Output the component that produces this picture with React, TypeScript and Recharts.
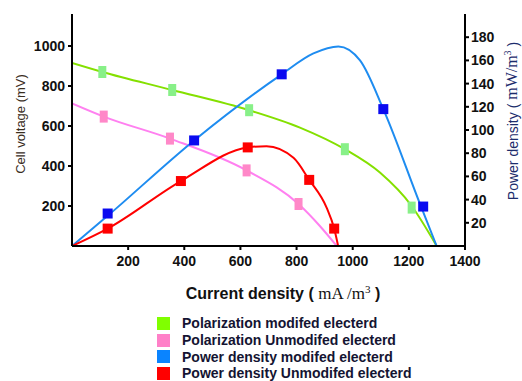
import { ComposedChart, Line, Scatter, XAxis, YAxis } from "recharts";

// axis ticks
const currentTicks = [200, 400, 600, 800, 1000, 1200, 1400];
const voltageTicks = [200, 400, 600, 800, 1000];
const powerTicks = [20, 40, 60, 80, 100, 120, 140, 160, 180];

// polarization, modified electrode (current density mA/m3 -> cell voltage mV)
const polModCurve = [
  { x: 0, y: 915 },
  { x: 108, y: 870 },
  { x: 357, y: 780 },
  { x: 631, y: 679 },
  { x: 812, y: 592 },
  { x: 972, y: 484 },
  { x: 1097, y: 367 },
  { x: 1210, y: 200 },
  { x: 1299, y: 0 },
];
const polModPoints = [
  { x: 108, y: 870 },
  { x: 357, y: 780 },
  { x: 631, y: 679 },
  { x: 972, y: 484 },
  { x: 1210, y: 192 },
];

// polarization, unmodified electrode
const polUnmodCurve = [
  { x: 0, y: 713 },
  { x: 113, y: 647 },
  { x: 349, y: 537 },
  { x: 622, y: 378 },
  { x: 807, y: 210 },
  { x: 883, y: 100 },
  { x: 943, y: 0 },
];
const polUnmodPoints = [
  { x: 113, y: 647 },
  { x: 349, y: 537 },
  { x: 622, y: 378 },
  { x: 807, y: 210 },
];

// power density, modified electrode (mW/m3)
const powModCurve = [
  { x: 0, y: 0 },
  { x: 127, y: 26 },
  { x: 435, y: 91 },
  { x: 747, y: 148 },
  { x: 860, y: 166 },
  { x: 949, y: 172 },
  { x: 1026, y: 160 },
  { x: 1109, y: 118 },
  { x: 1240, y: 36 },
  { x: 1299, y: 0 },
];
const powModPoints = [
  { x: 127, y: 28 },
  { x: 435, y: 91 },
  { x: 747, y: 148 },
  { x: 1109, y: 118 },
  { x: 1251, y: 34 },
];

// power density, unmodified electrode
const powUnmodCurve = [
  { x: 0, y: 0 },
  { x: 127, y: 15 },
  { x: 388, y: 56 },
  { x: 626, y: 85 },
  { x: 693, y: 86 },
  { x: 789, y: 76 },
  { x: 845, y: 57 },
  { x: 907, y: 33 },
  { x: 934, y: 15 },
  { x: 948, y: 0 },
];
const powUnmodPoints = [
  { x: 127, y: 15 },
  { x: 388, y: 56 },
  { x: 626, y: 85 },
  { x: 845, y: 57 },
  { x: 934, y: 15 },
];

const legendItems = [
  { label: "Polarization modifed electerd", color: "#80ff00" },
  { label: "Polarization Unmodifed electerd", color: "#ff80c8" },
  { label: "Power density modifed electerd", color: "#0a84ff" },
  { label: "Power density Unmodifed electerd", color: "#ff0000" },
];

const sans = "'Liberation Sans', Arial, sans-serif";
const serif = "'Liberation Serif', 'Times New Roman', serif";
const tickStyle = { fill: "#111", fontSize: 14, fontWeight: "bold", fontFamily: sans };
const axisStroke = { stroke: "#000", strokeWidth: 2 };

const rectMarker = (w: number, h: number, fill: string) => (props: any) =>
  <rect x={props.cx - w / 2} y={props.cy - h / 2} width={w} height={h} fill={fill} />;

export default function App() {
  return (
    <div style={{ position: "absolute", left: 0, top: 0, width: 522, height: 381, background: "#fff" }}>
      <ComposedChart width={522} height={300} margin={{ top: 14, right: 12, bottom: 24, left: 12 }}>
        <XAxis
          dataKey="x"
          type="number"
          domain={[0, 1400]}
          ticks={currentTicks}
          tick={tickStyle}
          tickSize={4}
          tickMargin={6}
          height={30}
          axisLine={axisStroke}
          tickLine={axisStroke}
          allowDataOverflow
        />
        <XAxis
          xAxisId="top"
          orientation="top"
          type="number"
          domain={[0, 1400]}
          tick={false}
          tickLine={false}
          height={0}
          axisLine={axisStroke}
        />
        <YAxis
          yAxisId="v"
          dataKey="y"
          type="number"
          domain={[0, 1160]}
          ticks={voltageTicks}
          tick={tickStyle}
          tickSize={4}
          tickMargin={3}
          width={60}
          axisLine={axisStroke}
          tickLine={axisStroke}
          allowDataOverflow
        />
        <YAxis
          yAxisId="p"
          orientation="right"
          dataKey="y"
          type="number"
          domain={[0, 200]}
          ticks={powerTicks}
          tick={tickStyle}
          tickSize={4}
          tickMargin={2}
          width={45}
          axisLine={axisStroke}
          tickLine={axisStroke}
          allowDataOverflow
        />

        <Line data={polModCurve} yAxisId="v" dataKey="y" type="monotone" stroke="#84e000" strokeWidth={2} dot={false} isAnimationActive={false} />
        <Line data={polUnmodCurve} yAxisId="v" dataKey="y" type="monotone" stroke="#ff80f0" strokeWidth={2} dot={false} isAnimationActive={false} />
        <Line data={powModCurve} yAxisId="p" dataKey="y" type="monotone" stroke="#1e8cf0" strokeWidth={2} dot={false} isAnimationActive={false} />
        <Line data={powUnmodCurve} yAxisId="p" dataKey="y" type="monotone" stroke="#ff0000" strokeWidth={2} dot={false} isAnimationActive={false} />

        <Scatter data={polModPoints} yAxisId="v" dataKey="y" shape={rectMarker(8, 12, "#88f088")} isAnimationActive={false} />
        <Scatter data={polUnmodPoints} yAxisId="v" dataKey="y" shape={rectMarker(8, 12, "#ff88c8")} isAnimationActive={false} />
        <Scatter data={powModPoints} yAxisId="p" dataKey="y" shape={rectMarker(10, 10, "#0a0af0")} isAnimationActive={false} />
        <Scatter data={powUnmodPoints} yAxisId="p" dataKey="y" shape={rectMarker(10, 10, "#ff0000")} isAnimationActive={false} />
      </ComposedChart>

      {/* axis titles */}
      <div
        style={{
          position: "absolute", left: 20, top: 124, transform: "translate(-50%, -50%) rotate(-90deg)",
          whiteSpace: "nowrap", fontFamily: sans, fontSize: 13, color: "#3a2e1e",
        }}
      >
        Cell voltage (mV)
      </div>
      <div
        style={{
          position: "absolute", left: 512, top: 121, transform: "translate(-50%, -50%) rotate(-90deg)",
          whiteSpace: "nowrap", fontFamily: sans, fontSize: 14, color: "#1c2c6c",
        }}
      >
        Power density ( <span style={{ fontFamily: serif, fontSize: 16 }}>mW/m<sup style={{ fontSize: 10 }}>3</sup></span> )
      </div>
      <div
        style={{
          position: "absolute", left: 283, top: 293, transform: "translate(-50%, -50%)",
          whiteSpace: "nowrap", fontFamily: sans, fontSize: 16, fontWeight: "bold", color: "#111",
        }}
      >
        Current density ({" "}
        <span style={{ fontFamily: serif, fontWeight: "normal", fontSize: 17 }}>
          mA /m<sup style={{ fontSize: 11 }}>3</sup>
        </span>{" "}
        )
      </div>

      {/* legend */}
      <div style={{ position: "absolute", left: 157, top: 315 }}>
        {legendItems.map((item) => (
          <div key={item.label} style={{ display: "flex", alignItems: "center", height: 16.7 }}>
            <div style={{ width: 13, height: 13, background: item.color, marginRight: 12 }} />
            <span style={{ fontFamily: sans, fontSize: 14, fontWeight: "bold", color: "#141432" }}>{item.label}</span>
          </div>
        ))}
      </div>
    </div>
  );
}
